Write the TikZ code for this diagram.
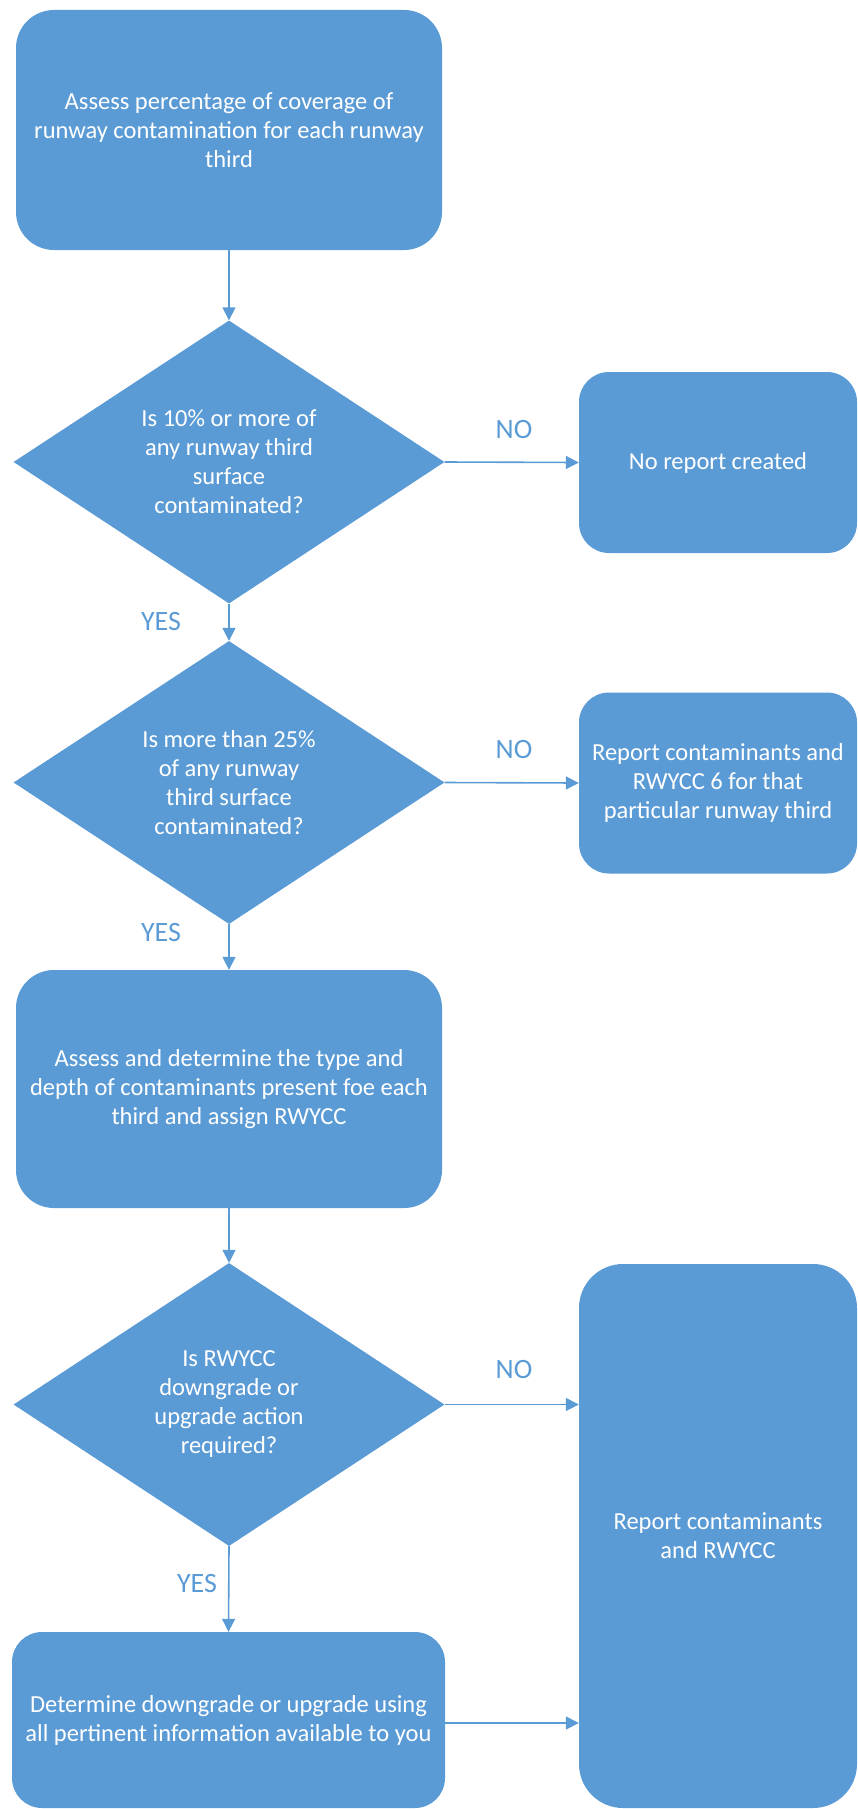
\documentclass[tikz,border=0pt]{standalone}
\usepackage{fontspec}
\setmainfont{Carlito}
\usetikzlibrary{shapes.geometric,arrows.meta}
\definecolor{fc}{HTML}{5B9BD5}
\begin{document}
\begin{tikzpicture}[x=1pt,y=-1pt,
  box/.style={fill=fc, draw=none, text=white, align=center,
    font=\fontsize{24.5}{29}\selectfont, inner sep=0pt},
  dia/.style={diamond, fill=fc, draw=none, text=white, align=center,
    font=\fontsize{24.5}{29}\selectfont, inner sep=0pt,
    minimum width=431pt, minimum height=283pt},
  conn/.style={draw=fc, line width=1.6pt, -{Triangle[length=13pt,width=13pt]}},
  lab/.style={text=fc, font=\fontsize{28}{30}\selectfont, inner sep=0pt}]
\useasboundingbox (0,0) rectangle (857,1809);

\node[box, rounded corners=38pt, minimum width=426pt, minimum height=240pt] (b1) at (229,130)
  {Assess percentage of coverage of\\runway contamination for each runway\\third};
\node[dia] (d1) at (229,462) {Is 10\% or more of\\any runway third\\surface\\contaminated?};
\node[box, rounded corners=30pt, minimum width=278pt, minimum height=181pt] (n1) at (718,462.5)
  {No report created};
\node[dia] (d2) at (229,782.5) {Is more than 25\%\\of any runway\\third surface\\contaminated?};
\node[box, rounded corners=30pt, minimum width=278pt, minimum height=181pt] (n2) at (718,783)
  {Report contaminants and\\RWYCC 6 for that\\particular runway third};
\node[box, rounded corners=38pt, minimum width=426pt, minimum height=238pt] (b3) at (229,1089)
  {Assess and determine the type and\\depth of contaminants present foe each\\third and assign RWYCC};
\node[dia] (d3) at (229,1404.5) {Is RWYCC\\downgrade or\\upgrade action\\required?};
\node[box, rounded corners=44pt, minimum width=278pt, minimum height=544pt] (big) at (718,1536)
  {Report contaminants\\and RWYCC};
\node[box, rounded corners=30pt, minimum width=433pt, minimum height=176pt] (b5) at (228.5,1720)
  {Determine downgrade or upgrade using\\all pertinent information available to you};

\draw[conn] (b1.south) -- (d1.north);
\draw[conn] (d1.east) -- (n1.west);
\draw[conn] (d1.south) -- (d2.north);
\draw[conn] (d2.east) -- (n2.west);
\draw[conn] (d2.south) -- (b3.north);
\draw[conn] (b3.south) -- (d3.north);
\draw[conn] (d3.east) -- (d3.east -| big.west);
\draw[conn] (d3.south) -- (b5.north);
\draw[conn] (b5.east |- 0,1723) -- (big.west |- 0,1723);

\node[lab] (no1) at (514,430) {NO};
\node[lab] (no2) at (514,750) {NO};
\node[lab] (no3) at (514,1369) {NO};
\node[lab] (yes1) at (161,622) {YES};
\node[lab] (yes2) at (161,932) {YES};
\node[lab] (yes3) at (197,1583) {YES};
\end{tikzpicture}
\end{document}
